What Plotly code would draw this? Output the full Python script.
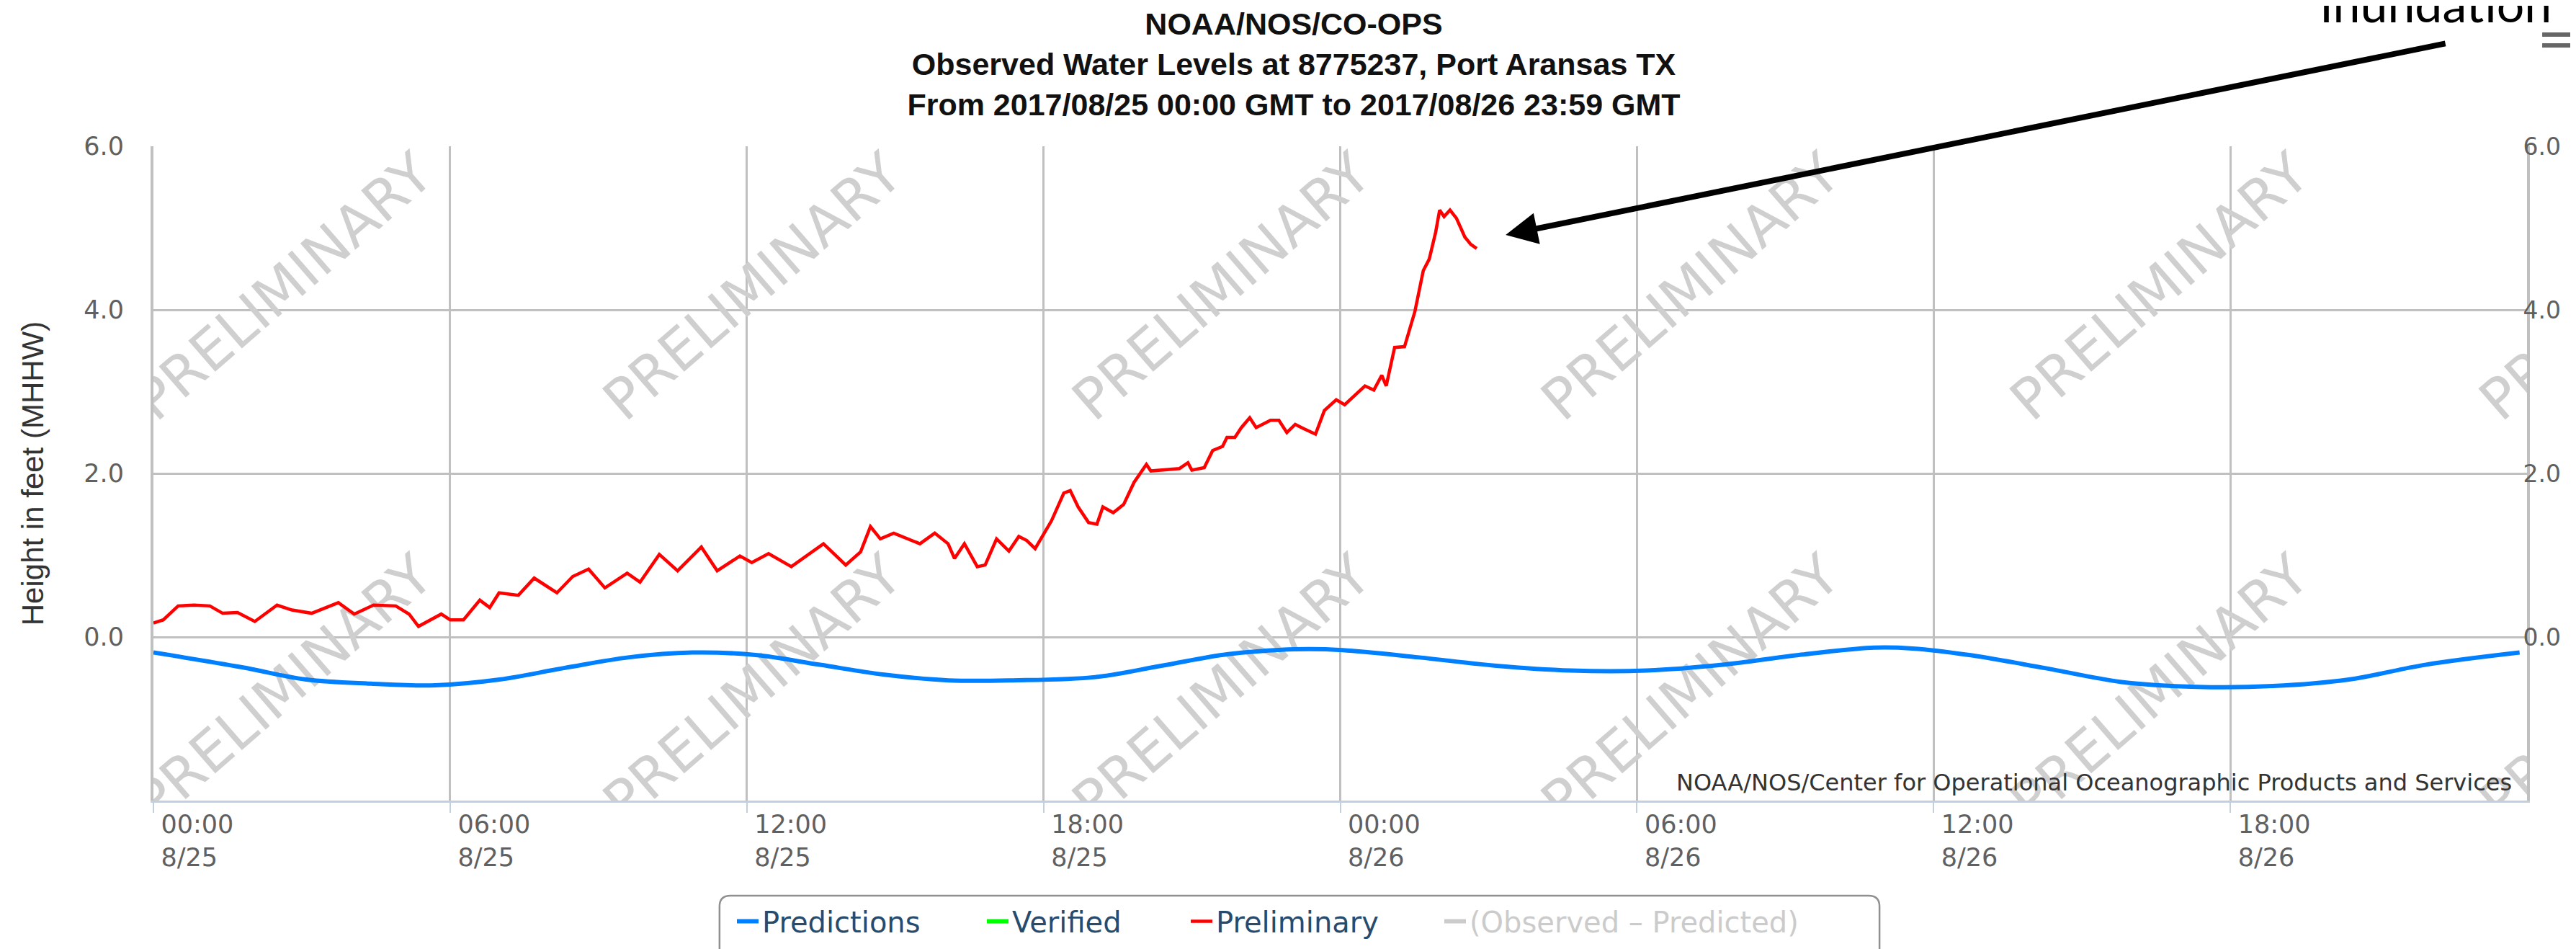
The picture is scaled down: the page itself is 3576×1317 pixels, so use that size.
import plotly.graph_objects as go
import pandas as pd

# values, hours counted from 2017-08-25 00:00 GMT
start = pd.Timestamp('2017-08-25 00:00')
end = pd.Timestamp('2017-08-27 00:00')

pred_hours = [0.0, 1.79, 3.09, 4.4, 5.7, 7.0, 8.3, 9.6, 10.9, 12.18, 13.48, 14.78, 16.08,
              17.38, 19.05, 20.4, 21.74, 23.09, 24.05, 25.6, 27.12, 28.66, 30.2, 31.73,
              33.27, 34.8, 35.57, 36.72, 38.25, 39.8, 41.33, 42.86, 44.4, 45.94, 47.85]
pred_ft = [-0.19, -0.37, -0.52, -0.57, -0.59, -0.52, -0.38, -0.25, -0.19, -0.22, -0.34, -0.46, -0.53,
           -0.53, -0.49, -0.35, -0.21, -0.15, -0.16, -0.25, -0.35, -0.41, -0.41, -0.34,
           -0.22, -0.13, -0.14, -0.22, -0.38, -0.55, -0.61, -0.60, -0.52, -0.34, -0.19]

prelim_hours = [0.0, 0.2, 0.5, 0.82, 1.14, 1.4, 1.7, 2.05, 2.5, 2.8, 3.2, 3.74, 4.06, 4.45,
                4.9, 5.17, 5.36, 5.82, 6.0, 6.27, 6.6, 6.8, 6.99, 7.38, 7.7, 8.16, 8.48, 8.8,
                9.13, 9.58, 9.84, 10.23, 10.6, 11.08, 11.4, 11.86, 12.1, 12.44, 12.9, 13.16,
                13.55, 14.0, 14.3, 14.5, 14.7, 14.97, 15.5, 15.8, 16.07, 16.2, 16.4, 16.66,
                16.82, 17.05, 17.3, 17.5, 17.66, 17.83, 18.03, 18.16, 18.41, 18.54, 18.7,
                18.91, 19.08, 19.2, 19.41, 19.62, 19.83, 20.08, 20.17, 20.42, 20.75, 20.92,
                21.0, 21.25, 21.42, 21.62, 21.71, 21.87, 22.0, 22.17, 22.3, 22.59, 22.76,
                22.92, 23.09, 23.25, 23.5, 23.68, 23.92, 24.09, 24.26, 24.5, 24.68, 24.84,
                24.93, 25.1, 25.3, 25.51, 25.68, 25.8, 25.93, 26.01, 26.1, 26.22, 26.35,
                26.52, 26.64, 26.76]
prelim_ft = [0.17, 0.21, 0.38, 0.39, 0.38, 0.29, 0.30, 0.19, 0.39, 0.33, 0.29, 0.42, 0.28, 0.39,
             0.38, 0.28, 0.13, 0.28, 0.21, 0.21, 0.45, 0.36, 0.54, 0.51, 0.72, 0.54, 0.74, 0.83,
             0.60, 0.78, 0.67, 1.01, 0.81, 1.10, 0.81, 0.99, 0.91, 1.02, 0.86, 0.97,
             1.14, 0.88, 1.04, 1.35, 1.20, 1.27, 1.14, 1.27, 1.14, 0.96, 1.14, 0.86,
             0.88, 1.20, 1.05, 1.23, 1.18, 1.08, 1.28, 1.42, 1.76, 1.79, 1.59,
             1.40, 1.38, 1.59, 1.52, 1.62, 1.89, 2.11, 2.03, 2.04, 2.06, 2.13,
             2.04, 2.07, 2.28, 2.33, 2.44, 2.44, 2.56, 2.68, 2.56, 2.65, 2.65,
             2.50, 2.60, 2.55, 2.48, 2.77, 2.90, 2.84, 2.93, 3.07, 3.02, 3.20,
             3.07, 3.54, 3.55, 3.98, 4.48, 4.62, 4.95, 5.22, 5.14, 5.22, 5.12,
             4.89, 4.80, 4.75]

# no verified / difference data in this window
verified_ft = [None]
diff_ft = [None]

tick_hours = [0, 6, 12, 18, 24, 30, 36, 42]
tick_labels = ['00:00<br>8/25', '06:00<br>8/25', '12:00<br>8/25', '18:00<br>8/25',
               '00:00<br>8/26', '06:00<br>8/26', '12:00<br>8/26', '18:00<br>8/26']
y_ticks = [0, 2, 4, 6]


def to_time(hours):
    return [start + pd.Timedelta(hours=h) for h in hours]


fig = go.Figure()
fig.add_trace(go.Scatter(x=to_time(pred_hours), y=pred_ft, name='Predictions', mode='lines',
                         legend='legend', line=dict(color='#0080FF', width=6, shape='spline')))
fig.add_trace(go.Scatter(x=[start], y=verified_ft, name='Verified', mode='lines', yaxis='y2',
                         legend='legend2', line=dict(color='#00FF00', width=6)))
fig.add_trace(go.Scatter(x=to_time(prelim_hours), y=prelim_ft, name='Preliminary', mode='lines',
                         legend='legend3', line=dict(color='#FF0000', width=4.5)))
fig.add_trace(go.Scatter(x=[start], y=diff_ft, name="<span style='color:#999999'>(Observed – Predicted)</span>",
                         mode='lines', visible='legendonly', legend='legend4',
                         line=dict(color='#999999', width=6)))

# PRELIMINARY watermark grid (fractions of the plot area)
wm_cols = [0.0534, 0.251, 0.4486, 0.6462, 0.8438, 1.0414]
wm_rows = [0.79, 0.176]
for fx in wm_cols:
    for fy in wm_rows:
        xd = start + (end - start) * fx
        yd = -2 + 8 * fy
        fig.add_shape(type='rect', xref='x', yref='y', x0=xd, x1=xd + pd.Timedelta(minutes=1),
                      y0=yd, y1=yd + 0.01, line=dict(width=0), fillcolor='rgba(0,0,0,0)',
                      layer='between',
                      label=dict(text='PRELIMINARY', textangle=-41, textposition='middle center',
                                 font=dict(family='DejaVu Sans', size=78, color='#CFCFCF')))

# export menu icon, top right
for y0, y1 in [(1.1509, 1.1575), (1.1674, 1.174)]:
    fig.add_shape(type='rect', xref='paper', yref='paper', x0=1.0064, x1=1.03, y0=y0, y1=y1,
                  line=dict(width=0), fillcolor='#666666')

# rounded legend frame (bottom runs off the page)
bx0, bx1, byt, byb = 0.2385, 0.7272, -0.1454, -0.3
rx, ry = 0.0046, 0.0165
frame = (f'M{bx0 + rx},{byt} L{bx1 - rx},{byt} Q{bx1},{byt} {bx1},{byt - ry} L{bx1},{byb} '
         f'L{bx0},{byb} L{bx0},{byt - ry} Q{bx0},{byt} {bx0 + rx},{byt} Z')
fig.add_shape(type='path', xref='paper', yref='paper', path=frame,
              line=dict(color='#909090', width=2.5), fillcolor='white')

fig.add_annotation(x=0.5697, y=0.8645, xref='paper', yref='paper', text='', showarrow=True,
                   ax=1306, ay=-266, arrowhead=2, arrowsize=1.1, arrowwidth=8, arrowcolor='black')
fig.add_annotation(x=0.912, y=1.2181, xref='paper', yref='paper', text='Inundation',
                   showarrow=False, xanchor='left', yanchor='middle',
                   font=dict(family='Lato', size=68, color='black'))
fig.add_annotation(x=0.9942, y=0.004, xref='paper', yref='paper',
                   text='NOAA/NOS/Center for Operational Oceanographic Products and Services',
                   showarrow=False, xanchor='right', yanchor='bottom',
                   font=dict(family='DejaVu Sans', size=32, color='#333333'))

tickfont = dict(family='DejaVu Sans', size=35, color='#606060')
legend_font = dict(family='DejaVu Sans', size=40, color='#274B6D')
legend_y = 1 - 1238 / 1317


def one_legend(px):
    return dict(orientation='h', xref='container', x=(px - 10) / 3576, xanchor='left',
                yref='container', y=legend_y, yanchor='top', bgcolor='rgba(0,0,0,0)',
                borderwidth=0, font=legend_font)


fig.update_layout(
    width=3576, height=1317,
    margin=dict(l=205, r=76, t=195, b=214),
    paper_bgcolor='white', plot_bgcolor='white',
    title=dict(text='<b>NOAA/NOS/CO-OPS<br>Observed Water Levels at 8775237, Port Aransas TX<br>'
                    'From 2017/08/25 00:00 GMT to 2017/08/26 23:59 GMT</b>',
               x=0.5, xanchor='center', xref='container', y=1 - 40 / 1317, yanchor='top',
               yref='container', font=dict(family='Arial', size=43, color='#111111')),
    xaxis=dict(type='date', range=[start, end], tickvals=to_time(tick_hours), ticktext=tick_labels,
               showgrid=True, gridcolor='#C0C0C0', gridwidth=3, zeroline=False,
               showline=True, linecolor='#C0D0E0', linewidth=3,
               ticks='outside', ticklen=14, tickwidth=2, tickcolor='#C0D0E0',
               ticklabelposition='outside right', ticklabelshift=8, tickfont=tickfont),
    yaxis=dict(range=[-2, 6], tickvals=y_ticks, tickformat='.1f', showgrid=True,
               gridcolor='#C0C0C0', gridwidth=2.5, zeroline=False, showline=True,
               linecolor='#C0C0C0', linewidth=4, ticks='', ticklen=0, ticklabelstandoff=30,
               tickfont=tickfont,
               title=dict(text='Height in feet (MHHW)', standoff=44,
                          font=dict(family='Arial', size=42, color='#333333'))),
    yaxis2=dict(range=[-2, 6], tickvals=y_ticks, tickformat='.1f', overlaying='y', side='right',
                showgrid=False, zeroline=False, showline=True, linecolor='#C0C0C0', linewidth=4,
                ticks='', ticklen=0, ticklabelstandoff=-16,
                tickfont=dict(family='DejaVu Sans', size=33, color='#606060')),
    legend=one_legend(1020),
    legend2=one_legend(1367),
    legend3=one_legend(1650),
    legend4=one_legend(2002),
    showlegend=True,
)

fig.write_html("out.html")
